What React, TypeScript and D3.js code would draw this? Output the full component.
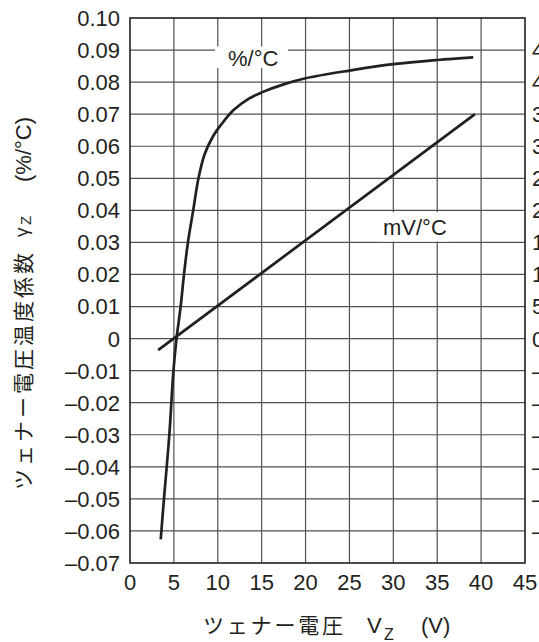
import React from "react";
import * as d3 from "d3";

const xTicks = [0, 5, 10, 15, 20, 25, 30, 35, 40, 45];
const yTicks = [-0.07, -0.06, -0.05, -0.04, -0.03, -0.02, -0.01, 0, 0.01, 0.02, 0.03, 0.04, 0.05, 0.06, 0.07, 0.08, 0.09, 0.1];
const rightTicks = [-30, -25, -20, -15, -10, -5, 0, 5, 10, 15, 20, 25, 30, 35, 40, 45];

// %/°C curve (Vz, γz)
const pctX = [3.5, 3.87, 4.48, 4.95, 5.3, 5.77, 6.15, 6.6, 7.2, 7.8, 8.5, 9.4, 10.4, 11.8, 13.5, 15, 17.5, 20, 25, 30, 35, 39.1];
const pctY = [-0.0626, -0.05, -0.03, -0.01, 0, 0.01, 0.02, 0.03, 0.04, 0.05, 0.0575, 0.0628, 0.0668, 0.0713, 0.0748, 0.0768, 0.0793, 0.0812, 0.0836, 0.0856, 0.0869, 0.0877];

// mV/°C line (Vz, mV/°C)
const mvX = [3.2, 39.3];
const mvY = [-1.8, 35];

const W = 539;
const H = 642;
const L = 130, R = 525, T = 18, B = 563;
const INK = "#231f20";
const FONT = "'Liberation Sans', Arial, sans-serif";
const CJK = "'Noto Sans CJK JP', sans-serif";

const fmtLeft = (v: number) => {
  const r = Math.round(v * 100) / 100;
  if (r === 0) return "0";
  return (r < 0 ? "\u2013" : "") + Math.abs(r).toFixed(2);
};
const fmtRight = (v: number) => (v < 0 ? "\u2013" + Math.abs(v) : String(v));

export default function App() {
  const x = d3.scaleLinear().domain([0, 45]).range([L, R]);
  const y = d3.scaleLinear().domain([-0.07, 0.1]).range([B, T]);
  const yR = d3.scaleLinear().domain([-35, 50]).range([B, T]);

  const pctData = pctX.map((v, i) => [v, pctY[i]] as [number, number]);
  const mvData = mvX.map((v, i) => [v, mvY[i]] as [number, number]);

  const pctLine = d3
    .line<[number, number]>()
    .x((d) => x(d[0]))
    .y((d) => y(d[1]))
    .curve(d3.curveCatmullRom.alpha(0.5))(pctData);
  const mvLine = d3
    .line<[number, number]>()
    .x((d) => x(d[0]))
    .y((d) => yR(d[1]))(mvData);

  return (
    <svg
      width={W}
      height={H}
      style={{ position: "absolute", left: 0, top: 0, background: "#fff" }}
      fontFamily={FONT}
    >
      <rect x={0} y={0} width={W} height={H} fill="#fff" />
      {/* grid */}
      {xTicks.slice(1, -1).map((t) => (
        <line key={"gx" + t} x1={x(t)} x2={x(t)} y1={T} y2={B} stroke="#505050" strokeWidth={1.2} />
      ))}
      {yTicks.slice(1, -1).map((t) => (
        <line key={"gy" + t} x1={L} x2={R} y1={y(t)} y2={y(t)} stroke="#505050" strokeWidth={1.2} />
      ))}
      {/* label backgrounds */}
      <rect x={215} y={46.5} width={73} height={21.5} fill="#fff" />
      <rect x={378} y={212} width={71} height={29.5} fill="#fff" />
      <rect x={L} y={T} width={R - L} height={B - T} fill="none" stroke={INK} strokeWidth={1.6} />

      {/* curves */}
      <path d={pctLine || ""} fill="none" stroke={INK} strokeWidth={2.7} strokeLinecap="butt" />
      <path d={mvLine || ""} fill="none" stroke={INK} strokeWidth={2.7} />

      <text x={228} y={65.5} fontSize={22} fill={INK}>%/°C</text>
      <text x={383} y={235} fontSize={22} fill={INK}>mV/°C</text>

      {/* left ticks */}
      {yTicks.map((t) => (
        <text key={"ly" + t} x={120} y={y(t)} dy="0.36em" textAnchor="end" fontSize={22} fill={INK}>
          {fmtLeft(t)}
        </text>
      ))}
      {/* right ticks */}
      {rightTicks.map((t) => (
        <text key={"ry" + t} x={532} y={yR(t)} dy="0.36em" textAnchor="start" fontSize={22} fill={INK}>
          {fmtRight(t)}
        </text>
      ))}
      {/* x ticks */}
      {xTicks.map((t) => (
        <text key={"tx" + t} x={x(t)} y={590} textAnchor="middle" fontSize={22} fill={INK}>
          {t}
        </text>
      ))}

      {/* x title */}
      <text x={203} y={633} fontSize={21} fill={INK} fontFamily={CJK} textLength={140} lengthAdjust="spacing">
        ツェナー電圧
      </text>
      <text x={367} y={633} fontSize={22} fill={INK}>V</text>
      <text x={384} y={640} fontSize={16} fill={INK}>Z</text>
      <text x={421} y={633} fontSize={22} fill={INK}>(V)</text>

      {/* y title */}
      <g transform="translate(31,490) rotate(-90)">
        <text x={0} y={0} fontSize={21} fill={INK} fontFamily={CJK} textLength={237} lengthAdjust="spacing">
          ツェナー電圧温度係数
        </text>
        <text x={253} y={-3} fontSize={19} fill={INK}>γ</text>
        <text x={265} y={0} fontSize={15} fill={INK}>Z</text>
        <text x={308} y={0} fontSize={22} fill={INK}>(%/°C)</text>
      </g>
    </svg>
  );
}
